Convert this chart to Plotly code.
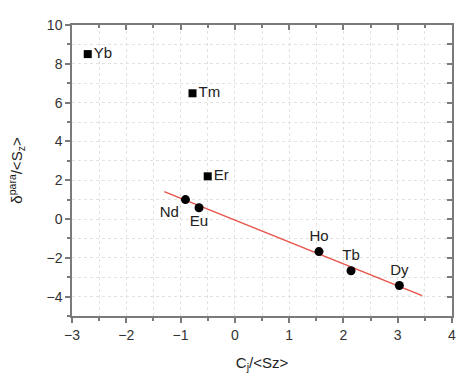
import plotly.graph_objects as go

# Data
sq_labels = ["Yb", "Tm", "Er"]
sq_x = [-2.71, -0.78, -0.50]
sq_y = [8.5, 6.48, 2.2]

ci_labels = ["Nd", "Eu", "Ho", "Tb", "Dy"]
ci_x = [-0.91, -0.66, 1.55, 2.14, 3.03]
ci_y = [1.0, 0.58, -1.68, -2.67, -3.43]
ci_pos = ["bottom left", "bottom center", "top center", "top center", "top center"]

fit_x = [-1.30, 3.45]
fit_y = [1.41, -3.95]

x_ticks = [-3, -2, -1, 0, 1, 2, 3, 4]
y_ticks = [-4, -2, 0, 2, 4, 6, 8, 10]

font_fam = "Liberation Sans, Arial, sans-serif"
axis_col = "#7a7a7a"
grid_col = "#e2e2e2"

fig = go.Figure()

fig.add_trace(go.Scatter(x=fit_x, y=fit_y, mode="lines",
                         line=dict(color="#e8534a", width=1.5), showlegend=False))
fig.add_trace(go.Scatter(x=sq_x, y=sq_y, mode="markers+text", text=sq_labels,
                         textposition="middle right",
                         textfont=dict(family=font_fam, size=15, color="#222"),
                         marker=dict(symbol="square", size=8, color="black"),
                         showlegend=False))
fig.add_trace(go.Scatter(x=ci_x, y=ci_y, mode="markers+text", text=ci_labels,
                         textposition=ci_pos,
                         textfont=dict(family=font_fam, size=15, color="#222"),
                         marker=dict(symbol="circle", size=9, color="black"),
                         showlegend=False))

fig.update_layout(
    width=465, height=378,
    margin=dict(l=72, r=9, t=25, b=60),
    paper_bgcolor="white", plot_bgcolor="white",
    font=dict(family=font_fam, size=14, color="#333"),
    xaxis=dict(range=[-3, 4], tickvals=x_ticks, ticks="outside", ticklen=5,
               tickcolor=axis_col, tickwidth=1.5,
               showline=True, linecolor=axis_col, linewidth=1.5,
               showgrid=True, gridcolor=grid_col, griddash="dot", zeroline=False,
               minor=dict(dtick=0.5, ticks="outside", ticklen=3, tickcolor=axis_col,
                          showgrid=True, gridcolor=grid_col, griddash="dot"),
               title=dict(text="C<sub>j</sub>/&lt;Sz&gt;", font=dict(size=15, color="#222"), standoff=16)),
    yaxis=dict(range=[-5, 10], tickvals=y_ticks, ticks="outside", ticklen=5,
               tickcolor=axis_col, tickwidth=1.5,
               showline=True, linecolor=axis_col, linewidth=1.5,
               showgrid=True, gridcolor=grid_col, griddash="dot", zeroline=False,
               minor=dict(dtick=1, ticks="outside", ticklen=3, tickcolor=axis_col,
                          showgrid=True, gridcolor=grid_col, griddash="dot"),
               title=dict(text="δ<sup>para</sup>/&lt;S<sub>z</sub>&gt;", font=dict(size=15, color="#222"), standoff=20)),
    xaxis2=dict(range=[-3, 4], overlaying="x", side="top", tickvals=x_ticks,
                ticks="inside", ticklen=5, tickcolor=axis_col, tickwidth=1.5,
                showticklabels=False, showline=True, linecolor=axis_col, linewidth=1.5,
                showgrid=False, zeroline=False,
                minor=dict(dtick=0.5, ticks="inside", ticklen=3, tickcolor=axis_col)),
    yaxis2=dict(range=[-5, 10], overlaying="y", side="right", tickvals=y_ticks,
                ticks="inside", ticklen=5, tickcolor=axis_col, tickwidth=1.5,
                showticklabels=False, showline=True, linecolor=axis_col, linewidth=1.5,
                showgrid=False, zeroline=False,
                minor=dict(dtick=1, ticks="inside", ticklen=5, tickcolor=axis_col)),
)
# invisible trace to activate the mirrored axes
fig.add_trace(go.Scatter(x=[None], y=[None], xaxis="x2", yaxis="y2", showlegend=False))

fig.write_html("out.html")
